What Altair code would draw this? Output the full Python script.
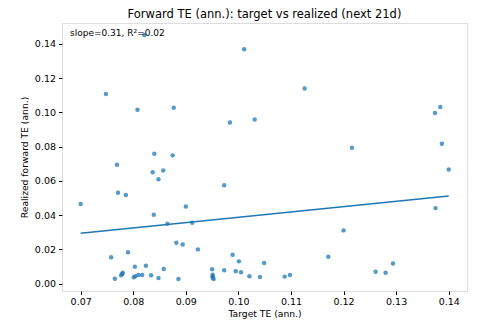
import altair as alt
import pandas as pd

target_te = [0.0700, 0.0748, 0.0758, 0.0765, 0.0769, 0.0771, 0.0777, 0.0779, 0.0780, 0.0786,
             0.0790, 0.0801, 0.0803, 0.0804, 0.0808, 0.0810, 0.0817, 0.0821, 0.0824, 0.0834,
             0.0837, 0.0839, 0.0840, 0.0848, 0.0848, 0.0857, 0.0858, 0.0865, 0.0875, 0.0877,
             0.0882, 0.0886, 0.0894, 0.0900, 0.0912, 0.0923, 0.0950, 0.0951, 0.0951, 0.0951,
             0.0953, 0.0973, 0.0973, 0.0984, 0.0989, 0.0995, 0.1001, 0.1005, 0.1011, 0.1021,
             0.1031, 0.1041, 0.1049, 0.1088, 0.1098, 0.1126, 0.1171, 0.1200, 0.1216, 0.1261,
             0.1280, 0.1294, 0.1374, 0.1375, 0.1384, 0.1387, 0.1400]
realized_te = [0.0465, 0.1108, 0.0154, 0.0029, 0.0694, 0.0531, 0.0049, 0.0056, 0.0064, 0.0517,
               0.0183, 0.0037, 0.0099, 0.0043, 0.1015, 0.0051, 0.0051, 0.1452, 0.0105, 0.0049,
               0.0651, 0.0402, 0.0758, 0.0609, 0.0033, 0.0661, 0.0086, 0.0350, 0.0749, 0.1027,
               0.0239, 0.0027, 0.0229, 0.0451, 0.0356, 0.0200, 0.0084, 0.0052, 0.0043, 0.0035,
               0.0027, 0.0574, 0.0078, 0.0941, 0.0169, 0.0072, 0.0130, 0.0066, 0.1369, 0.0043,
               0.0959, 0.0039, 0.0121, 0.0041, 0.0051, 0.1139, 0.0157, 0.0311, 0.0793, 0.0070,
               0.0064, 0.0117, 0.0997, 0.0441, 0.1031, 0.0817, 0.0667]

x_ticks = [0.07, 0.08, 0.09, 0.10, 0.11, 0.12, 0.13, 0.14]
y_ticks = [0.00, 0.02, 0.04, 0.06, 0.08, 0.10, 0.12, 0.14]
annotation = "slope=0.31, R\u00b2=0.02"
title = "Forward TE (ann.): target vs realized (next 21d)"

df = pd.DataFrame({"target": target_te, "realized": realized_te})

FONT = "DejaVu Sans"
TICK_FS = 9.5
LABEL_FS = 9.2
xscale = alt.Scale(domain=[0.06645, 0.14348], nice=False, zero=False)
yscale = alt.Scale(domain=[-0.0043, 0.1522], nice=False, zero=False)

xaxis = alt.Axis(values=x_ticks, tickCount=len(x_ticks), format=".2f", title="Target TE (ann.)",
                 grid=False, tickSize=3.5, tickColor="#000", labelPadding=2, titlePadding=3,
                 labelFontSize=TICK_FS, titleFontSize=LABEL_FS, labelColor="#000", titleColor="#000",
                 titleFontWeight="normal", domain=False, labelFont=FONT, titleFont=FONT,
                 labelOverlap=False)
yaxis = alt.Axis(values=y_ticks, tickCount=len(y_ticks), format=".2f",
                 title="Realized forward TE (ann.)",
                 grid=False, tickSize=3.5, tickColor="#000", labelPadding=3, titlePadding=5,
                 labelFontSize=TICK_FS, titleFontSize=LABEL_FS, labelColor="#000", titleColor="#000",
                 titleFontWeight="normal", domain=False, labelFont=FONT, titleFont=FONT,
                 labelOverlap=False)

base = alt.Chart(df)

points = base.mark_circle(size=20, color="#1f77b4", opacity=0.75).encode(
    x=alt.X("target:Q", scale=xscale, axis=xaxis),
    y=alt.Y("realized:Q", scale=yscale, axis=yaxis),
)

fit = base.transform_regression(
    "target", "realized", method="linear", extent=[0.07, 0.14]
).mark_line(color="#1f77b4", strokeWidth=1.5).encode(
    x=alt.X("target:Q", scale=xscale, axis=xaxis),
    y=alt.Y("realized:Q", scale=yscale, axis=yaxis),
)

label = alt.Chart(pd.DataFrame({"t": [annotation]})).mark_text(
    align="left", baseline="middle", font=FONT, fontSize=9, color="#000"
).encode(x=alt.value(8), y=alt.value(9.5), text="t:N")

chart = alt.layer(points, fit, label).properties(
    width=405, height=268,
    title=alt.TitleParams(title, font=FONT, fontSize=11.5, fontWeight="normal",
                          color="#000", anchor="middle", offset=2.5),
    autosize=alt.AutoSizeParams(type="none"),
    padding={"left": 54, "top": 15, "right": 6, "bottom": 30},
).configure_view(stroke="#444", strokeWidth=1).configure(background="white")

chart.save("out.html", embed_options={"renderer": "svg", "actions": False})
